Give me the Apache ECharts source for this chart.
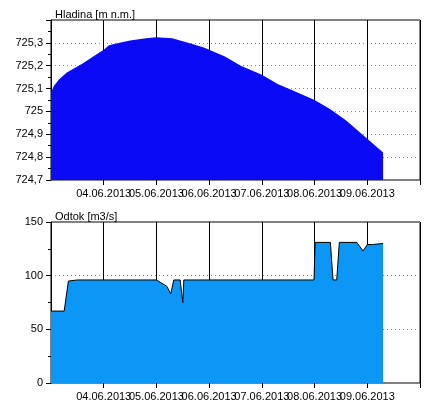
<!DOCTYPE html>
<html><head><meta charset="utf-8">
<script src="https://cdn.jsdelivr.net/npm/echarts@6/dist/echarts.min.js"></script>
<style>html,body{margin:0;background:#fff}#c{width:444px;height:406px}</style>
</head><body><div id="c"></div>
<script>
// x = days since 03.06.2013 00:00
const dayLabels = ["03.06.2013","04.06.2013","05.06.2013","06.06.2013","07.06.2013","08.06.2013","09.06.2013"];
const levelX = [0,0.05,0.15,0.3,0.45,0.6,0.8,1.0,1.1,1.3,1.5,1.8,2.0,2.3,2.6,2.9,3.0,3.3,3.6,4.0,4.3,4.6,5.0,5.3,5.6,6.0,6.3];
const levelY = [725.08,725.11,725.14,725.17,725.19,725.21,725.24,725.27,725.29,725.30,725.31,725.32,725.325,725.32,725.30,725.28,725.27,725.24,725.20,725.16,725.12,725.09,725.05,725.01,724.96,724.88,724.82];
const flowX = [0,0.25,0.33,0.5,1.0,2.0,2.2,2.27,2.33,2.45,2.5,2.52,2.6,3.0,4.0,4.99,5.01,5.3,5.35,5.42,5.47,5.8,5.92,6.0,6.1,6.3];
const flowY = [67,67,95,96,96,96,90,83,96,96,75,96,96,96,96,96,131,131,96,96,131,131,123,129,129,130];

const zip = (a, b) => a.map((v, i) => [v, b[i]]);
const font = { fontFamily: "Liberation Sans, Arial", fontSize: 11, color: "#000" };
const xAxisBase = gi => ({
  type: "value", gridIndex: gi, min: 0, max: 7, interval: 1,
  axisLine: { show: false },
  axisTick: { lineStyle: { color: "#000" }, length: 5 },
  axisLabel: { ...font, formatter: v => dayLabels[v] || "" },
  splitLine: { show: true, lineStyle: { color: "#000", width: 1 } }
});
const yAxisBase = (gi, min, max, interval, fmt) => ({
  type: "value", gridIndex: gi, min, max, interval,
  axisLine: { show: true, lineStyle: { color: "#000" } },
  axisTick: { show: true, lineStyle: { color: "#000" }, length: 5 },
  minorTick: { show: true, splitNumber: 2, length: 3, lineStyle: { color: "#000" } },
  axisLabel: { ...font, formatter: fmt },
  splitLine: { show: true, lineStyle: { color: "#888", type: [1, 3] } }
});

const chart = echarts.init(document.getElementById("c"));
chart.setOption({
  animation: false,
  title: [
    { text: "Hladina [m n.m.]", left: 50, top: 4, textStyle: { ...font, fontWeight: "normal" } },
    { text: "Odtok [m3/s]", left: 50, top: 206, textStyle: { ...font, fontWeight: "normal" } }
  ],
  grid: [
    { left: 51, width: 369, top: 20, height: 160, show: true, borderColor: "#000", borderWidth: 1 },
    { left: 51, width: 369, top: 222, height: 161, show: true, borderColor: "#000", borderWidth: 1 }
  ],
  xAxis: [xAxisBase(0), xAxisBase(1)],
  yAxis: [
    yAxisBase(0, 724.7, 725.4, 0.1, v => v >= 725.35 ? "" : String(+v.toFixed(1)).replace(".", ",")),
    yAxisBase(1, 0, 150, 50, v => v)
  ],
  series: [
    { type: "line", xAxisIndex: 0, yAxisIndex: 0, data: zip(levelX, levelY), showSymbol: false,
      lineStyle: { width: 0 }, areaStyle: { color: "#0a0af5", opacity: 1, origin: "start" } },
    { type: "line", xAxisIndex: 1, yAxisIndex: 1, data: zip(flowX, flowY), showSymbol: false,
      lineStyle: { width: 1, color: "#000" }, areaStyle: { color: "#0c96f5", opacity: 1 } }
  ]
});
</script></body></html>
